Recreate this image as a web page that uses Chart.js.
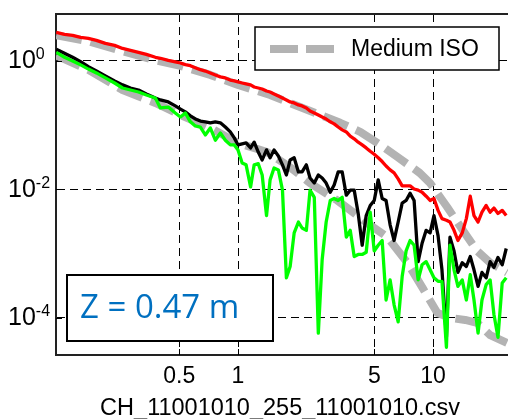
<!DOCTYPE html>
<html>
<head>
<meta charset="utf-8">
<script src="https://cdn.jsdelivr.net/npm/chart.js@4.4.1/dist/chart.umd.min.js"></script>
<style>
  html, body { margin: 0; padding: 0; background: #fff; }
</style>
</head>
<body>
<canvas id="c" width="508" height="419"></canvas>
<script>
// frequencies (log spaced) shared by the three measured spectra
const freq = [0.117,0.129,0.142,0.156,0.171,0.188,0.209,0.233,0.256,0.281,0.309,0.339,
  0.377,0.400,0.439,0.477,0.507,0.537,0.570,0.604,0.641,0.680,
  0.721,0.765,0.812,0.861,0.913,0.957,1.00,
  1.05,1.10,1.16,1.21,1.27,1.33,1.40,1.46,1.53,1.61,
  1.69,1.77,1.85,1.94,2.04,2.13,2.24,2.34,2.46,2.58,
  2.70,2.83,2.97,3.11,3.26,3.42,3.59,3.76,3.94,4.13,
  4.33,4.54,4.76,4.99,5.23,5.48,5.74,6.02,6.31,6.62,
  6.94,7.27,7.62,7.99,8.38,8.78,9.21,9.65,10.1,10.6,
  11.1,11.7,12.2,12.8,13.4,14.1,14.8,15.5,16.2,17.0,
  17.8,18.7,19.6,20.5,21.5,22.6,23.7];

const redVals = [2.76,2.57,2.48,2.30,2.22,2.07,1.86,1.73,1.55,1.45,1.35,1.25,
  1.13,1.09,1.01,0.96,0.92,0.867,0.836,0.778,0.724,0.69,
  0.645,0.60,0.56,0.54,0.50,0.485,0.467,
  0.45,0.435,0.42,0.39,0.376,0.363,0.338,0.326,0.304,0.283,
  0.263,0.245,0.228,0.22,0.205,0.198,0.184,0.165,0.154,0.143,
  0.133,0.124,0.112,0.104,0.093,0.084,0.078,0.067,0.061,0.054,
  0.049,0.044,0.039,0.035,0.031,0.027,0.023,0.020,0.018,0.0145,
  0.0113,0.0113,0.0113,0.0101,0.0097,0.009,0.0078,0.0067,0.0072,0.0047,
  0.0035,0.0033,0.0031,0.0023,0.0016,0.0021,0.0035,0.0078,0.0039,0.0031,
  0.0044,0.0056,0.0044,0.0051,0.0042,0.0047,0.0039];

const blackVals = [1.50,1.30,1.13,0.965,0.81,0.69,0.58,0.485,0.42,0.376,0.35,0.304,
  0.263,0.245,0.228,0.198,0.177,0.16,0.139,0.124,0.115,0.112,
  0.108,0.112,0.108,0.093,0.078,0.063,0.049,
  0.051,0.0525,0.044,0.054,0.038,0.0286,0.041,0.031,0.041,0.033,
  0.024,0.0167,0.0286,0.031,0.0186,0.0186,0.024,0.015,0.0125,0.0167,
  0.015,0.0125,0.009,0.0117,0.0186,0.0186,0.0081,0.0097,0.0097,0.0042,
  0.00135,0.0039,0.0056,0.0067,0.014,0.0072,0.0067,0.0028,0.0016,0.0031,
  0.0061,0.0067,0.0087,0.0067,0.00075,0.00145,0.0023,0.0021,0.0039,0.0019,
  0.00056,0.00005,0.0018,0.0011,0.00051,0.00072,0.00063,0.0009,0.00056,0.00031,
  0.00051,0.00042,0.00075,0.00061,0.00087,0.00067,0.0012];

const greenVals = [1.35,1.13,0.99,0.86,0.74,0.645,0.54,0.45,0.376,0.35,0.326,0.293,
  0.263,0.184,0.19,0.154,0.133,0.154,0.112,0.0965,0.093,0.07,
  0.09,0.058,0.075,0.058,0.049,0.049,0.041,
  0.0257,0.024,0.0109,0.024,0.025,0.0167,0.0039,0.014,0.0214,0.02,
  0.0097,0.00042,0.00063,0.0021,0.0031,0.0025,0.0023,0.0097,0.0075,0.000058,
  0.00081,0.0031,0.0067,0.0072,0.0067,0.0075,0.0018,0.0023,0.0009,0.00097,
  0.00097,0.00105,0.0044,0.0011,0.00135,0.0016,0.00019,0.00039,0.00016,0.000087,
  0.00044,0.0011,0.0016,0.00135,0.00039,0.00067,0.00075,0.00056,0.00042,0.00037,
  0.00037,0.000035,0.00135,0.00056,0.00031,0.00039,0.00019,0.00047,0.00019,0.000058,
  0.00019,0.00033,0.00039,0.000113,0.00005,0.00035,0.00042];

// Medium ISO curves (upper and lower)
const isoHiFreq = [0.117,0.171,0.256,0.377,0.507,0.721,1.0,1.46,2.08,2.64,3.34,4.23,5.36,6.54,8.53,9.65,11.8,14.2,16.8,19.6,23.9];
const isoHi = [2.48,2.0,1.40,1.01,0.83,0.60,0.42,0.293,0.19,0.143,0.108,0.078,0.049,0.032,0.018,0.0125,0.0053,0.0023,0.0011,0.00072,0.00051];
const isoLoFreq = [0.117,0.171,0.256,0.377,0.507,0.721,1.0,1.41,1.85,2.34,3.23,4.59,5.83,7.38,8.91,10.5,12.2,14.6,16.8,19.6,23.9];
const isoLo = [1.21,0.72,0.35,0.22,0.143,0.09,0.0525,0.038,0.022,0.0125,0.0067,0.003,0.0018,0.00072,0.00028,0.00012,0.0001,0.000093,0.000084,0.000054,0.000041];

const xTicks = [0.5, 1, 5, 10];
const xTickLabels = ['0.5', '1', '5', '10'];
const yTicks = [1e-4, 1e-2, 1];
const yTickExps = ['-4', '-2', '0'];
const xTitle = 'CH_11001010_255_11001010.csv';
const isoLabel = 'Medium ISO';
const boxText = 'Z = 0.47 m';

const SANS = '"Liberation Sans", Arial, sans-serif';
const GRAY = '#b3b3b3';

window.addEventListener('DOMContentLoaded', () => {

  const xy = (xs, ys) => xs.map((x, i) => ({ x: x, y: ys[i] }));

  // legend, text box, labels drawn on the canvas
  const deco = {
    id: 'deco',
    afterDatasetsDraw(chart) {
      const c = chart.ctx;
      const area = chart.chartArea;
      c.save();

      // legend box (top right)
      const lx = area.right - 253, ly = area.top + 13, lw = 244, lh = 43;
      c.fillStyle = '#fff';
      c.fillRect(lx, ly, lw, lh);
      c.strokeStyle = '#000';
      c.lineWidth = 1.5;
      c.strokeRect(lx, ly, lw, lh);
      c.strokeStyle = GRAY;
      c.lineWidth = 8;
      c.setLineDash([28, 8]);
      c.beginPath();
      c.moveTo(lx + 15, ly + 22);
      c.lineTo(lx + 80, ly + 22);
      c.stroke();
      c.setLineDash([]);
      c.fillStyle = '#000';
      c.font = '23px ' + SANS;
      c.textAlign = 'left';
      c.textBaseline = 'alphabetic';
      c.fillText(isoLabel, lx + 96, ly + 29);

      // Z text box (bottom left)
      const bx = area.left + 11, by = 275, bw = 206, bh = 66;
      c.fillStyle = '#fff';
      c.fillRect(bx, by, bw, bh);
      c.strokeStyle = '#000';
      c.lineWidth = 2;
      c.strokeRect(bx, by, bw, bh);
      c.fillStyle = '#0070c0';
      c.font = '33px "Open Sans", sans-serif';
      c.fillText(boxText, bx + 13, by + 43);

      c.restore();
    },
    afterDraw(chart) {
      const c = chart.ctx;
      const area = chart.chartArea;
      const xs = chart.scales.x, ys = chart.scales.y;
      c.save();

      // top frame line
      c.strokeStyle = '#222';
      c.lineWidth = 2;
      c.beginPath();
      c.moveTo(area.left - 1, area.top);
      c.lineTo(area.right, area.top);
      c.stroke();

      // inner tick marks
      c.strokeStyle = '#000';
      c.lineWidth = 1;
      yTicks.forEach(v => {
        const py = Math.round(ys.getPixelForValue(v)) + 0.5;
        c.beginPath(); c.moveTo(area.left, py); c.lineTo(area.left + 6, py); c.stroke();
      });
      xTicks.forEach(v => {
        const px = Math.round(xs.getPixelForValue(v)) + 0.5;
        c.beginPath(); c.moveTo(px, area.bottom); c.lineTo(px, area.bottom - 6); c.stroke();
      });

      c.fillStyle = '#000';
      c.textBaseline = 'alphabetic';

      // x tick labels
      c.font = '23px ' + SANS;
      c.textAlign = 'center';
      xTicks.forEach((v, i) => {
        c.fillText(xTickLabels[i], xs.getPixelForValue(v), area.bottom + 28);
      });

      // y tick labels 10^n
      c.textAlign = 'left';
      yTicks.forEach((v, i) => {
        const py = ys.getPixelForValue(v);
        c.font = '25px ' + SANS;
        c.fillText('10', 8, py + 7.5);
        const w = c.measureText('10').width;
        c.font = '16px ' + SANS;
        c.fillText(yTickExps[i], 8 + w, py - 1.5);
      });

      // x title
      c.font = '23.5px ' + SANS;
      c.textAlign = 'center';
      c.fillText(xTitle, (area.left + area.right) / 2 - 2, 415);

      c.restore();
    }
  };

  new Chart(document.getElementById('c'), {
    type: 'line',
    data: {
      datasets: [
        { label: 'red', data: xy(freq, redVals), borderColor: '#ff0000', borderWidth: 3.3 },
        { label: 'green', data: xy(freq, greenVals), borderColor: '#00ff00', borderWidth: 3.3 },
        { label: 'black', data: xy(freq, blackVals), borderColor: '#000000', borderWidth: 3.3 },
        { label: isoLabel, data: xy(isoHiFreq, isoHi), borderColor: GRAY, borderWidth: 8, borderDash: [26, 9] },
        { label: isoLabel, data: xy(isoLoFreq, isoLo), borderColor: GRAY, borderWidth: 8, borderDash: [26, 9] }
      ]
    },
    options: {
      responsive: false,
      animation: false,
      devicePixelRatio: 1,
      elements: {
        point: { radius: 0 },
        line: { tension: 0, borderJoinStyle: 'round', fill: false }
      },
      layout: { padding: { top: 14, right: 0, bottom: 0, left: 0 } },
      plugins: { legend: { display: false }, tooltip: { enabled: false } },
      scales: {
        x: {
          type: 'logarithmic',
          min: 0.1167,
          max: 24.2,
          afterBuildTicks: a => { a.ticks = xTicks.map(v => ({ value: v })); },
          afterFit: a => { a.height = 64; },
          ticks: { display: false },
          grid: { color: '#000', lineWidth: 1, drawTicks: false },
          border: { display: true, color: '#222', width: 2, dash: [8, 5] }
        },
        y: {
          type: 'logarithmic',
          min: 2.65e-5,
          max: 5.32,
          afterBuildTicks: a => { a.ticks = yTicks.map(v => ({ value: v })); },
          afterFit: a => { a.width = 56; },
          ticks: { display: false },
          grid: { color: '#000', lineWidth: 1, drawTicks: false },
          border: { display: true, color: '#222', width: 2, dash: [8, 5] }
        }
      }
    },
    plugins: [deco]
  });

});
</script>
</body>
</html>
